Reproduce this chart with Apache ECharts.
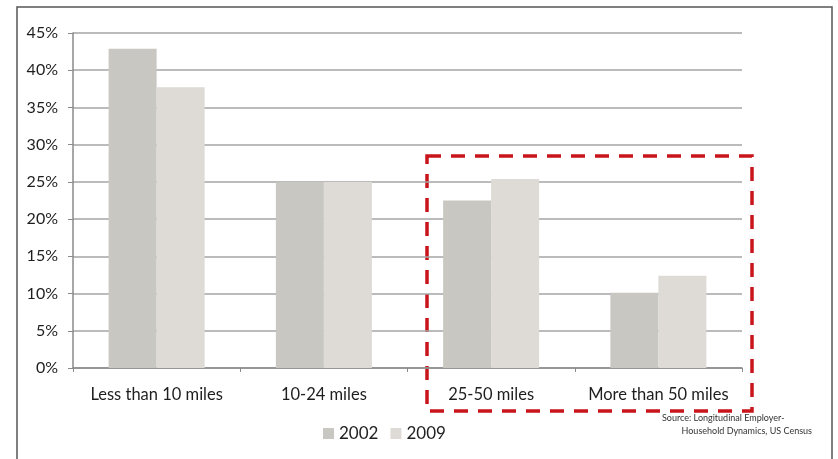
<!DOCTYPE html>
<html>
<head>
<meta charset="utf-8">
<script src="https://cdn.jsdelivr.net/npm/echarts@6/dist/echarts.min.js"></script>
<style>
  html, body { margin: 0; padding: 0; background: #fff; }
  #chart { width: 838px; height: 459px; }
</style>
</head>
<body>
<div id="chart"></div>
<script>
// commute distance shares, LEHD
const categories = ['Less than 10 miles', '10-24 miles', '25-50 miles', 'More than 50 miles'];
const years = ['2002', '2009'];
const share2002 = [42.9, 25.0, 22.5, 10.1];
const share2009 = [37.7, 25.0, 25.4, 12.4];
const yTicks = [0, 5, 10, 15, 20, 25, 30, 35, 40, 45];

const font = 'Lato, "Noto Sans", sans-serif';
let myChart = echarts.init(document.getElementById('chart'));

option = {
    animation: false,
    grid: { left: 73, right: 96, top: 33, bottom: 91 },
    legend: {
        data: years,
        left: 318,
        top: 420,
        itemWidth: 11,
        itemHeight: 11,
        itemGap: 12,
        icon: 'rect',
        textStyle: { fontFamily: font, fontSize: 17, color: '#222' }
    },
    xAxis: {
        type: 'category',
        data: categories,
        axisLine: { lineStyle: { color: '#8a8a8a', width: 1.5 } },
        axisTick: { show: true, length: 4, lineStyle: { color: '#8a8a8a' } },
        axisLabel: { interval: 0, fontFamily: font, fontSize: 16.5, color: '#1e1e1e', margin: 18 }
    },
    yAxis: {
        type: 'value',
        min: yTicks[0],
        max: yTicks[yTicks.length - 1],
        interval: 5,
        axisLine: { show: true, lineStyle: { color: '#8a8a8a', width: 1.5 } },
        axisTick: { show: true, length: 5, lineStyle: { color: '#8a8a8a' } },
        splitLine: { lineStyle: { color: '#a4a4a4', width: 1.5 } },
        axisLabel: { formatter: '{value}%', fontFamily: font, fontSize: 16, color: '#1e1e1e', margin: 15 }
    },
    series: [
        {
            name: years[0],
            type: 'bar',
            data: share2002,
            barWidth: 48,
            barGap: '0%',
            itemStyle: { color: '#c9c7c2' }
        },
        {
            name: years[1],
            type: 'bar',
            data: share2009,
            barWidth: 48,
            itemStyle: { color: '#dedad5' }
        }
    ],
    graphic: [
        {
            type: 'rect',
            shape: { x: 17, y: 7, width: 815, height: 470 },
            style: { fill: 'none', stroke: '#555', lineWidth: 1.5 },
            silent: true
        },
        {
            type: 'rect',
            shape: { x: 427, y: 156, width: 325, height: 255 },
            style: { fill: 'none', stroke: '#c8141a', lineWidth: 3.5, lineDash: [14, 10] },
            silent: true
        },
        {
            type: 'text',
            style: {
                x: 662, y: 414,
                text: 'Source: Longitudinal Employer-',
                align: 'left',
                fontFamily: font, fontSize: 9, fill: '#333'
            }
        },
        {
            type: 'text',
            style: {
                x: 812, y: 427,
                text: 'Household Dynamics, US Census',
                align: 'right',
                fontFamily: font, fontSize: 9, fill: '#333'
            }
        }
    ]
};
myChart.setOption(option);
</script>
</body>
</html>
